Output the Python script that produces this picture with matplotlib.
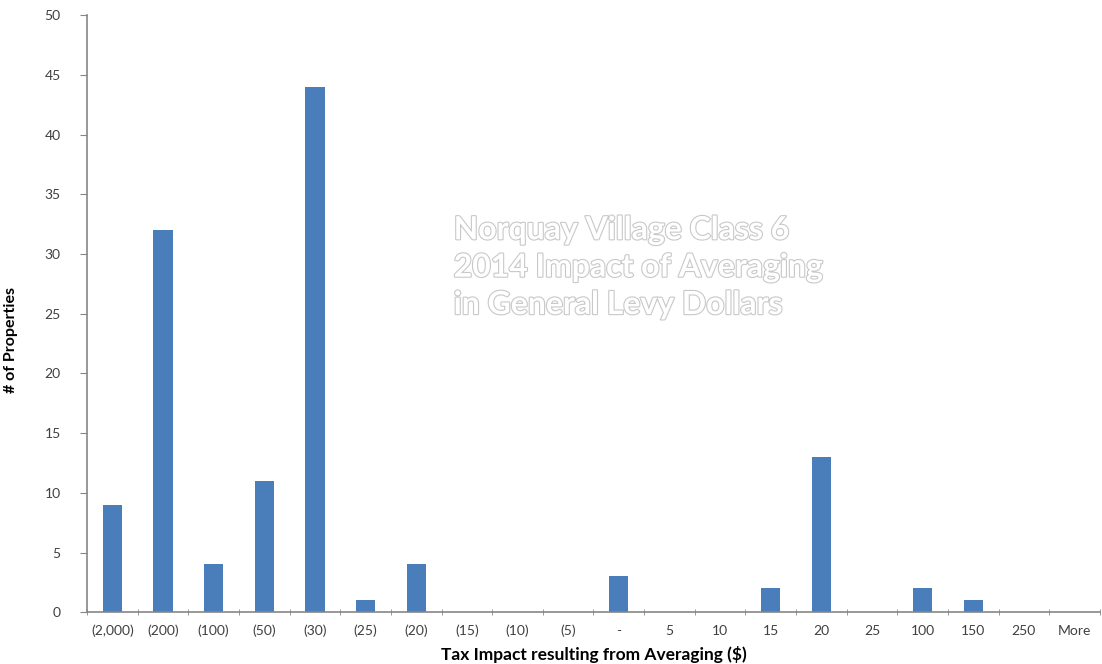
import numpy as np
import matplotlib.pyplot as plt
import matplotlib.patheffects as pe

plt.rcParams['font.family'] = ['Lato', 'DejaVu Sans']

categories = ['(2,000)', '(200)', '(100)', '(50)', '(30)', '(25)', '(20)', '(15)', '(10)', '(5)',
              '-', '5', '10', '15', '20', '25', '100', '150', '250', 'More']
counts = [9, 32, 4, 11, 44, 1, 4, 0, 0, 0,
          3, 0, 0, 2, 13, 0, 2, 1, 0, 0]

BAR_COLOR = '#4a7ebb'
AXIS_COLOR = '#868686'
TEXT_COLOR = '#404040'

fig = plt.figure(figsize=(11.02, 6.64), dpi=100)
ax = fig.add_axes([0.079, 0.078, 0.919, 0.899])

x = np.arange(len(categories))
ax.bar(x, counts, width=0.38, color=BAR_COLOR)

ax.set_xlim(-0.5, len(categories) - 0.5)
ax.set_ylim(0, 50)
ax.set_yticks(np.arange(0, 51, 5))

ax.set_xticks(x)
ax.set_xticklabels(categories)
ax.set_xticks(np.arange(-0.5, len(categories), 1), minor=True)
ax.tick_params(axis='x', which='major', length=0, pad=9, labelsize=10, labelcolor=TEXT_COLOR)
ax.tick_params(axis='x', which='minor', length=5, direction='inout', color=AXIS_COLOR)
ax.tick_params(axis='y', length=5, color=AXIS_COLOR, labelsize=10, labelcolor=TEXT_COLOR, pad=14)

for side in ['top', 'right']:
    ax.spines[side].set_visible(False)
for side in ['left', 'bottom']:
    ax.spines[side].set_color(AXIS_COLOR)
    ax.spines[side].set_linewidth(1.2)

ax.set_xlabel('Tax Impact resulting from Averaging ($)', fontsize=12.5, fontweight='bold', labelpad=6)
ax.set_ylabel('# of Properties', fontsize=11.5, fontweight='bold')
ax.yaxis.set_label_coords(-0.068, 0.456)

ax.text(0.362, 0.578, 'Norquay Village Class 6\n2014 Impact of Averaging\nin General Levy Dollars',
        transform=ax.transAxes, fontsize=23, fontweight='bold', color='white',
        ha='left', va='center', linespacing=1.35,
        path_effects=[pe.withStroke(linewidth=1.6, foreground='#c8c8c8')])

fig.savefig('out.png', dpi=100)
